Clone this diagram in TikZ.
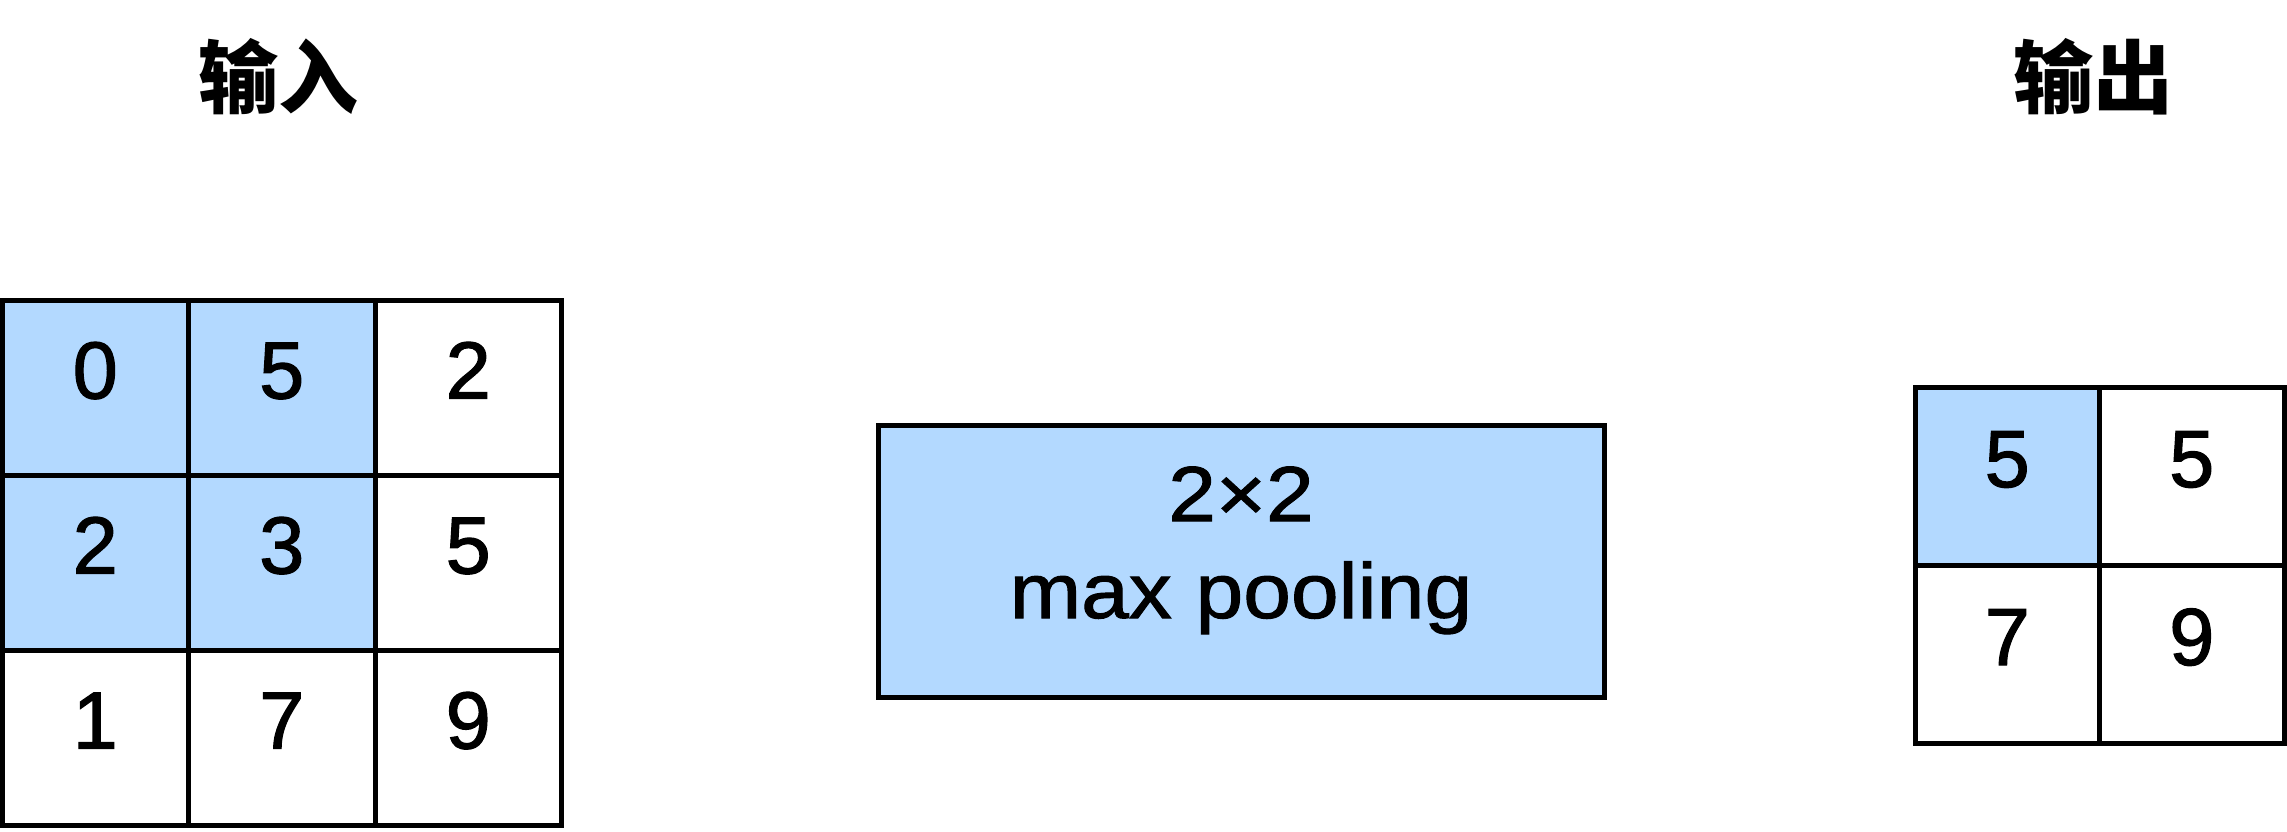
\documentclass[tikz,border=0pt]{standalone}
\usepackage{fontspec}
\setmainfont{Liberation Sans}
\newfontfamily\cellfont{Liberation Sans}[FakeBold=1.5]
\newfontfamily\boxfont{Liberation Sans}[FakeStretch=1.1, FakeBold=1.3]
\newfontfamily\cjk{Noto Sans CJK SC}
\definecolor{cellblue}{RGB}{179,217,255}
\tikzset{
  cell/.style={draw=black, line width=5pt, inner sep=0pt, outer sep=0pt,
    font=\cellfont\fontsize{81}{81}\selectfont, text height=22pt, text depth=0pt},
  lcell/.style={cell, minimum width=186.5pt, minimum height=175pt},
  rcell/.style={cell, minimum width=184.5pt, minimum height=178pt},
  hi/.style={fill=cellblue},
  title/.style={font=\cjk\bfseries\fontsize{80}{80}\selectfont, inner sep=0pt},
  boxtxt/.style={font=\boxfont\fontsize{78}{78}\selectfont, inner sep=0pt, anchor=base}
}
\begin{document}
\begin{tikzpicture}[x=1pt,y=-1pt]
\useasboundingbox (0,0) rectangle (2287,832);
% titles
\node[title] (tin) at (278,77) {输入};
\node[title] (tout) at (2093,77) {输出};
% input grid
\node[lcell,hi] (a11) at (95.25,387.5) {0};
\node[lcell,hi] (a12) at (281.75,387.5) {5};
\node[lcell] (a13) at (468.25,387.5) {2};
\node[lcell,hi] (a21) at (95.25,562.5) {2};
\node[lcell,hi] (a22) at (281.75,562.5) {3};
\node[lcell] (a23) at (468.25,562.5) {5};
\node[lcell] (a31) at (95.25,737.5) {1};
\node[lcell] (a32) at (281.75,737.5) {7};
\node[lcell] (a33) at (468.25,737.5) {9};
% pooling box
\node[draw=black, line width=5pt, fill=cellblue, minimum width=726pt, minimum height=272pt, inner sep=0pt] (pool) at (1241,561) {};
\node[boxtxt] (pl1) at (1241,521) {2×2};
\node[boxtxt] (pl2) at (1241,618) {max pooling};
% output grid
\node[rcell,hi] (b11) at (2007.25,476) {5};
\node[rcell] (b12) at (2191.75,476) {5};
\node[rcell] (b21) at (2007.25,654) {7};
\node[rcell] (b22) at (2191.75,654) {9};
\end{tikzpicture}
\end{document}
